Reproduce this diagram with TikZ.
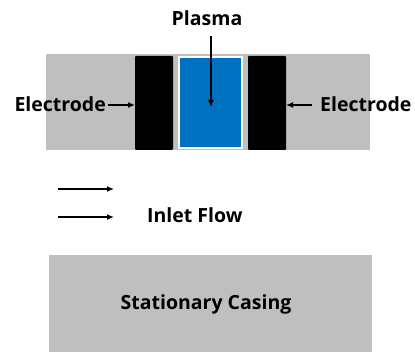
\documentclass[tikz,border=0pt]{standalone}
\usepackage{fontspec}
\setmainfont{Open Sans}
\definecolor{casing}{HTML}{BFBFBF}
\definecolor{plasmablue}{HTML}{0070C0}
\tikzset{
  lbl/.style={font=\bfseries\fontsize{19.5}{22}\selectfont, inner sep=0pt},
  arr/.style={-{Latex[length=7pt,width=6pt]}, line width=1.8pt},
}
\usetikzlibrary{arrows.meta}
\begin{document}
\begin{tikzpicture}[x=1pt,y=-1pt]
\useasboundingbox (0,0) rectangle (415,352);
\fill[casing] (46,54) rectangle (370,150);
\fill[black, rounded corners=1pt] (135,56) rectangle (173,150);
\fill[black, rounded corners=1pt] (248,56) rectangle (286,150);
\fill[white] (178,56) rectangle (243,149);
\fill[plasmablue] (180,58) rectangle (241,147);
\coordinate (le) at (135,105);
\coordinate (re) at (286,105);
\coordinate (pl) at (211,107);
\coordinate (pt) at (211,36);
\coordinate (la) at (108,105);
\coordinate (ra) at (312,105);
\node[lbl] (plasma) at (207,18) {Plasma};
\node[lbl, anchor=east] (eleft) at (106,104) {Electrode};
\node[lbl, anchor=west] (eright) at (320,104) {Electrode};
\draw[arr] (pt) -- (pl);
\draw[arr] (la) -- (le);
\draw[arr] (ra) -- (re);
\coordinate (f1s) at (58,189); \coordinate (f1e) at (114,189);
\coordinate (f2s) at (58,217); \coordinate (f2e) at (114,217);
\draw[arr] (f1s) -- (f1e);
\draw[arr] (f2s) -- (f2e);
\node[lbl, anchor=west] (inlet) at (147,215) {Inlet Flow};
\fill[casing] (49,255) rectangle (372,352);
\node[lbl] (casingtxt) at (206,304) {Stationary Casing};
\end{tikzpicture}
\end{document}
